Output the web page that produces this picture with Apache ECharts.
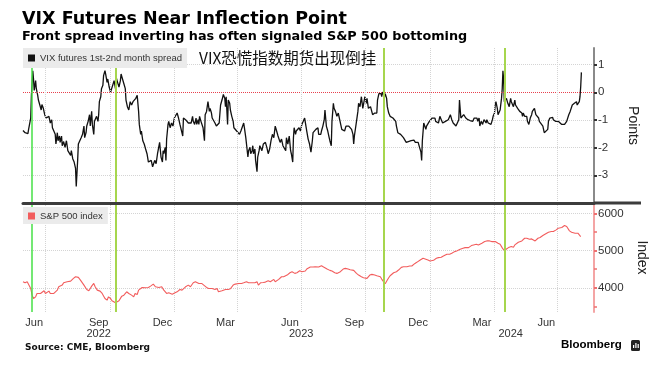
<!DOCTYPE html>
<html><head><meta charset="utf-8">
<script src="https://cdn.jsdelivr.net/npm/echarts@6/dist/echarts.min.js"></script>
<style>html,body{margin:0;padding:0;background:#fff}#c{width:668px;height:373px}</style>
</head><body><div id="c"></div>
<script>
// ---------- DATA ----------
// day offsets are counted from BASE_DATE
const BASE_DATE = '2022-06-01';
const X_MIN = '2022-05-30';
const X_MAX = '2024-08-22';

// VIX futures 1st-2nd month spread: [day offset, points]
const spreadPoints = [
[-2,-1.38],[1,-1.46],[5,-1.49],[6,-1.34],[9,-0.93],[10,-0.11],[12,0.78],[13,0.48],[14,0.07],[16,0.42],
[17,0.13],[19,-0.11],[20,-0.28],[22,-0.46],[24,-0.64],[25,-0.44],[27,-0.58],[29,-0.81],[30,-0.75],[31,-0.93],
[33,-0.99],[35,-0.87],[37,-1.11],[39,-0.99],[40,-1.28],[42,-1.22],[44,-1.52],[45,-1.87],[47,-1.46],[48,-1.75],
[50,-1.58],[51,-1.81],[53,-1.58],[54,-1.93],[56,-1.78],[58,-1.99],[60,-1.75],[62,-2.11],[64,-2.05],[66,-2.28],
[67,-2.11],[69,-2.40],[71,-2.52],[73,-2.75],[74,-3.40],[76,-2.46],[77,-1.87],[79,-1.85],[81,-1.64],[83,-1.52],
[85,-1.22],[86,-1.64],[88,-1.46],[89,-1.22],[91,-1.05],[93,-0.81],[94,-1.22],[96,-0.69],[97,-1.16],[99,-1.52],
[100,-1.05],[102,-0.99],[103,-0.87],[105,-1.05],[106,-0.81],[107,-0.34],[109,-0.16],[110,0.13],[112,0.25],[113,0.60],
[115,0.78],[116,0.66],[118,0.36],[119,0.48],[121,0.19],[123,0.01],[125,-0.05],[126,0.25],[128,0.42],[130,0.13],
[131,0.54],[133,0.36],[135,0.19],[137,0.42],[138,0.66],[140,0.48],[142,0.31],[144,0.13],[145,-0.28],[147,-0.52],
[149,-0.64],[151,-0.34],[153,-0.46],[155,-0.34],[157,-0.28],[159,-0.22],[161,-0.11],[163,-0.69],[164,-1.16],[166,-1.52],
[167,-1.40],[169,-1.75],[171,-1.87],[173,-2.05],[175,-2.22],[177,-2.52],[179,-2.58],[181,-2.46],[183,-2.69],[184,-2.64],
[186,-2.46],[188,-2.58],[190,-2.22],[192,-2.28],[193,-1.81],[195,-2.34],[197,-2.52],[198,-2.11],[199,-2.22],[201,-1.99],
[202,-2.46],[203,-1.69],[205,-1.16],[206,-1.05],[208,-1.28],[210,-1.11],[212,-1.22],[214,-0.93],[216,-0.87],[218,-0.75],
[220,-0.93],[222,-1.16],[224,-1.22],[226,-1.58],[227,-0.93],[229,-0.87],[230,-0.99],[232,-0.93],[234,-1.11],[236,-1.16],
[238,-1.11],[240,-0.87],[241,-1.05],[243,-1.16],[245,-0.93],[246,-1.16],[248,-0.99],[249,-1.16],[250,-0.87],[252,-1.05],
[253,-0.99],[255,-1.28],[257,-1.75],[258,-0.81],[260,-0.69],[262,-0.34],[264,-0.69],[265,-0.58],[267,-0.75],[268,-0.93],
[270,-0.99],[272,-1.11],[274,-1.22],[276,-1.16],[278,-1.11],[280,-0.46],[282,-0.28],[284,-0.08],[286,-0.22],[287,-0.52],
[288,-0.16],[290,-1.16],[291,-0.28],[293,-0.40],[294,-0.64],[296,-0.87],[298,-1.05],[299,-1.28],[301,-1.34],[303,-1.40],
[305,-1.46],[307,-1.52],[309,-1.40],[311,-1.46],[313,-1.11],[314,-1.28],[316,-1.64],[317,-1.87],[319,-2.34],[320,-2.11],
[322,-1.99],[323,-2.22],[325,-2.11],[326,-1.93],[327,-2.22],[329,-2.05],[330,-2.46],[332,-2.87],[333,-2.34],[335,-2.11],
[336,-1.93],[337,-1.99],[339,-2.11],[341,-1.87],[343,-1.93],[344,-1.81],[346,-1.99],[348,-2.22],[350,-2.05],[352,-1.75],
[354,-1.52],[356,-1.64],[358,-1.22],[360,-1.40],[362,-1.58],[363,-1.64],[365,-1.81],[367,-1.69],[369,-1.93],[371,-1.87],
[373,-2.11],[374,-1.64],[376,-1.87],[378,-1.58],[380,-2.11],[381,-2.22],[383,-2.52],[384,-1.64],[385,-1.28],[387,-1.52],
[388,-1.40],[390,-1.34],[392,-1.28],[394,-1.40],[396,-1.16],[398,-1.05],[400,-0.93],[402,-0.99],[403,-1.40],[405,-1.69],
[407,-1.87],[409,-2.16],[411,-1.75],[412,-1.46],[414,-1.40],[416,-1.34],[417,-1.40],[419,-1.28],[420,-1.52],[422,-1.46],
[423,-1.52],[424,-1.40],[426,-1.22],[428,-0.99],[429,-0.64],[431,-1.22],[432,-1.22],[433,-1.40],[435,-1.64],[436,-1.75],
[438,-1.93],[439,-1.05],[441,-0.40],[442,-0.58],[444,-0.69],[446,-0.87],[448,-0.75],[450,-0.99],[451,-1.05],[453,-1.34],
[455,-1.34],[457,-1.40],[459,-1.22],[461,-1.16],[463,-1.22],[465,-1.22],[467,-1.34],[469,-1.52],[470,-1.87],[471,-1.58],
[473,-1.52],[474,-1.05],[476,-0.69],[477,-0.40],[479,-0.52],[480,-0.34],[481,-0.16],[483,-0.58],[484,-0.52],[486,-0.16],
[488,-0.40],[489,-0.22],[491,-0.58],[492,-0.64],[494,-0.52],[495,-0.58],[497,-0.81],[498,-0.87],[500,-0.75],[501,-0.81],
[503,-0.75],[504,-0.28],[506,-0.05],[507,0.01],[509,-0.05],[510,-0.16],[511,0.01],[513,0.01],[514,-0.16],[515,-0.05],
[517,-0.22],[518,-0.52],[520,-0.75],[521,-0.69],[522,-0.87],[524,-0.81],[526,-0.93],[528,-0.99],[530,-1.05],[531,-1.22],
[533,-1.46],[535,-1.52],[537,-1.52],[539,-1.58],[541,-1.64],[543,-1.69],[545,-1.81],[547,-1.81],[548,-1.78],[550,-1.81],
[552,-1.75],[554,-1.78],[556,-1.73],[558,-1.81],[560,-1.87],[562,-1.81],[564,-1.99],[566,-2.16],[567,-2.46],[568,-1.75],
[570,-1.11],[571,-1.16],[573,-1.34],[574,-1.22],[576,-1.16],[578,-1.05],[580,-0.99],[582,-0.93],[584,-0.99],[586,-0.93],
[587,-1.05],[589,-0.99],[591,-1.11],[593,-0.87],[595,-0.99],[597,-1.11],[599,-1.11],[601,-1.05],[603,-1.11],[605,-0.99],
[606,-0.93],[608,-0.81],[610,-0.99],[612,-1.11],[614,-1.16],[616,-1.22],[618,-1.28],[620,-0.99],[621,-0.28],[623,-0.93],
[624,-0.99],[625,-0.87],[627,-0.81],[628,-0.81],[630,-0.93],[631,-0.99],[633,-0.99],[634,-1.02],[636,-1.02],[638,-0.99],
[640,-1.05],[642,-0.93],[643,-0.87],[644,-0.99],[646,-0.93],[647,-1.05],[649,-0.93],[650,-1.22],[652,-1.05],[653,-1.11],
[654,-1.16],[656,-0.99],[657,-1.05],[659,-1.11],[660,-0.99],[662,-1.11],[663,-1.11],[664,-1.05],[666,-1.16],[668,-0.99],
[669,-0.87],[671,-0.75],[672,-0.46],[673,-0.34],[675,-0.58],[676,-0.81],[678,-0.87],[679,-0.64],[681,-0.22],[682,0.13],
[683,0.78],[684,0.48],[685,-0.34],[687,-0.28],[688,-0.22],[690,-0.40],[691,-0.34],[692,-0.52],[694,-0.22],[695,-0.34],
[697,-0.28],[698,-0.52],[700,-0.28],[701,-0.46],[702,-0.52],[704,-0.58],[705,-0.64],[707,-0.69],[708,-0.75],[710,-0.75],
[711,-0.87],[712,-0.75],[714,-0.87],[715,-0.93],[717,-0.87],[718,-1.05],[720,-1.16],[721,-1.05],[722,-0.93],[724,-0.81],
[725,-0.69],[727,-0.64],[728,-0.58],[730,-0.81],[731,-0.75],[732,-0.87],[734,-0.93],[735,-1.05],[737,-1.11],[738,-1.11],
[740,-1.22],[741,-1.28],[742,-1.46],[744,-1.52],[745,-1.52],[747,-1.34],[748,-1.05],[750,-0.93],[751,-0.87],[752,-0.93],
[754,-0.91],[755,-0.99],[757,-0.95],[758,-1.05],[760,-1.11],[761,-1.11],[762,-1.05],[764,-1.11],[765,-1.11],[767,-1.16],
[768,-1.19],[769,-1.11],[771,-1.16],[772,-1.11],[774,-1.05],[775,-0.99],[777,-0.81],[778,-0.75],[779,-0.69],[781,-0.64],
[782,-0.46],[784,-0.52],[785,-0.40],[787,-0.46],[788,-0.34],[789,-0.46],[791,-0.40],[792,-0.34],[793,-0.16],[794,0.19],
[795,0.72]
];

// S&P 500 index: [day offset, index level]
const spxPoints = [
[-2,4163],[1,4136],[4,4163],[6,4118],[9,3983],[11,3803],[13,3713],[16,3758],[18,3848],[20,3893],
[23,3848],[25,3893],[28,3920],[30,3848],[32,3893],[35,3911],[37,3848],[39,3803],[42,3848],[44,3893],
[47,3938],[49,4028],[51,4010],[54,4073],[56,4136],[58,4118],[61,4163],[63,4163],[66,4181],[68,4208],
[70,4253],[73,4298],[75,4316],[77,4280],[80,4208],[82,4163],[85,4073],[87,4028],[89,3956],[92,3920],
[94,3983],[96,4046],[99,4118],[101,4028],[104,3938],[106,3893],[108,3911],[111,3848],[113,3803],[115,3713],
[118,3668],[120,3758],[123,3713],[125,3650],[127,3668],[130,3596],[132,3623],[135,3650],[137,3668],[139,3776],
[142,3803],[144,3848],[146,3893],[149,3848],[151,3893],[153,3803],[156,3758],[158,3848],[161,3821],[163,3938],
[165,3983],[168,4010],[170,3983],[173,4001],[175,4028],[177,4010],[180,4046],[182,4073],[184,4100],[187,4028],
[189,3983],[192,4010],[194,3983],[196,4028],[199,3938],[201,3893],[203,3848],[206,3866],[208,3848],[211,3830],
[213,3848],[215,3866],[218,3893],[220,3938],[222,3956],[225,3938],[227,3983],[230,4028],[232,4010],[234,4073],
[237,4028],[239,4073],[241,4136],[244,4163],[246,4136],[249,4118],[251,4136],[253,4118],[256,4073],[258,4028],
[260,4010],[263,3983],[265,4010],[268,3983],[270,3938],[272,3956],[275,3983],[277,3893],[279,3866],[282,3920],
[284,3938],[287,3956],[289,3920],[291,3956],[294,3974],[296,4010],[298,4073],[301,4100],[303,4118],[306,4118],
[308,4136],[310,4118],[313,4136],[315,4145],[317,4163],[320,4136],[322,4163],[325,4136],[327,4100],[329,4136],
[332,4163],[334,4073],[337,4136],[339,4118],[341,4145],[344,4154],[346,4163],[348,4190],[351,4163],[353,4208],
[356,4226],[358,4163],[360,4208],[363,4226],[365,4253],[367,4298],[370,4298],[372,4316],[375,4343],[377,4370],
[379,4406],[382,4433],[384,4406],[386,4388],[389,4406],[391,4433],[393,4460],[396,4433],[398,4415],[401,4451],
[403,4505],[405,4523],[408,4559],[410,4568],[412,4559],[415,4568],[417,4586],[420,4559],[422,4568],[424,4595],
[427,4559],[429,4523],[432,4505],[434,4505],[436,4469],[439,4451],[441,4433],[443,4406],[446,4388],[448,4406],
[451,4433],[453,4478],[455,4505],[458,4523],[460,4478],[462,4505],[465,4487],[467,4478],[470,4469],[472,4433],
[474,4388],[477,4343],[479,4325],[481,4298],[484,4271],[486,4298],[489,4253],[491,4298],[493,4343],[496,4361],
[498,4388],[500,4343],[503,4325],[505,4370],[508,4298],[510,4235],[512,4181],[515,4109],[516,4145],[518,4208],
[520,4271],[522,4325],[524,4361],[527,4406],[529,4370],[531,4433],[534,4478],[536,4523],[538,4550],[541,4568],
[543,4577],[546,4568],[548,4577],[550,4586],[553,4586],[555,4595],[557,4649],[560,4685],[562,4703],[565,4748],
[567,4775],[569,4793],[572,4775],[574,4793],[576,4748],[579,4721],[581,4703],[584,4739],[586,4775],[588,4793],
[591,4811],[593,4793],[595,4820],[598,4856],[600,4883],[603,4901],[605,4865],[607,4901],[610,4928],[612,4955],
[614,4973],[617,4991],[619,5018],[622,5036],[624,5045],[626,5063],[629,5081],[631,5108],[634,5081],[636,5108],
[638,5135],[641,5153],[643,5135],[645,5171],[648,5153],[650,5180],[653,5198],[655,5216],[657,5243],[660,5261],
[662,5270],[664,5261],[667,5243],[669,5225],[672,5243],[674,5225],[676,5198],[679,5171],[681,5108],[683,5045],
[686,4991],[688,5045],[691,5081],[693,5063],[695,5108],[698,5090],[700,5153],[702,5198],[705,5225],[707,5243],
[710,5261],[712,5288],[714,5333],[717,5333],[719,5333],[721,5306],[724,5315],[726,5279],[729,5261],[731,5288],
[733,5333],[736,5351],[738,5378],[740,5405],[743,5441],[745,5468],[748,5495],[750,5495],[752,5513],[755,5513],
[757,5531],[759,5558],[762,5603],[764,5585],[767,5621],[769,5648],[771,5675],[774,5648],[776,5603],[778,5531],
[781,5495],[783,5513],[786,5468],[788,5441],[790,5468],[792,5513],[794,5378]
];

// Dates where the front spread inverted (vertical signal lines)
const signalDates = ['2022-06-12', '2022-10-10', '2023-10-27', '2024-04-16'];

// Axis ticks and labels
const quarterStarts = ['2022-07-01','2022-10-01','2023-01-01','2023-04-01','2023-07-01','2023-10-01','2024-01-01','2024-04-01','2024-07-01'];
const monthTicks = ['2022-06-15','2022-09-15','2022-12-15','2023-03-15','2023-06-15','2023-09-15','2023-12-15','2024-03-15','2024-06-15'];
const monthNames = ['Jan','Feb','Mar','Apr','May','Jun','Jul','Aug','Sep','Oct','Nov','Dec'];
const yearTicks = ['2022-09-15','2023-07-01','2024-04-25'];
const spreadTicks = [-3, -2, -1, 0, 1];
const spxTicks = [4000, 5000, 6000];
const spxMinorTicks = [3500, 4500, 5500];

// ---------- CHART ----------
const DAY = 86400000;
const ts = s => { const p = s.split('-').map(Number); return Date.UTC(p[0], p[1] - 1, p[2]); };
const base = ts(BASE_DATE);
const toT = d => base + d * DAY;

const signalColors = ['#46e046', '#a6d64e', '#a6d64e', '#a6d64e'];
const signalWidths = [1.5, 2, 2, 2];
const signalLines = signalDates.map((s, i) => ({
  xAxis: ts(s), lineStyle: { color: signalColors[i], width: signalWidths[i], type: 'solid' }
}));

const FONT = 'Liberation Sans';
const dotted = { type: 'dotted', color: '#d4d4d4', width: 1 };
const xMin = ts(X_MIN), xMax = ts(X_MAX);
const plain = v => String(v);
const SQUARE = 'path://M0,0L10,0L10,10L0,10Z';

const chart = echarts.init(document.getElementById('c'), null, { renderer: 'canvas' });
chart.setOption({
  animation: false,
  backgroundColor: '#ffffff',
  title: [
    { text: 'VIX Futures Near Inflection Point', left: 22, top: 10, padding: 0,
      textStyle: { fontFamily: 'DejaVu Sans', fontWeight: 'bold', fontSize: 17.5, color: '#000' } },
    { text: 'Front spread inverting has often signaled S&P 500 bottoming', left: 22, top: 30, padding: 0,
      textStyle: { fontFamily: 'DejaVu Sans', fontWeight: 'bold', fontSize: 12.8, color: '#000' } },
    { text: 'VIX恐慌指数期货出现倒挂', left: 199, top: 50, padding: 0,
      textStyle: { fontFamily: 'Noto Sans CJK SC', fontWeight: 'normal', fontSize: 15.5, color: '#111' } },
    { text: 'Source: CME, Bloomberg', left: 25, top: 343, padding: 0,
      textStyle: { fontFamily: 'DejaVu Sans', fontWeight: 'bold', fontSize: 9, color: '#111' } },
    { text: 'Bloomberg', left: 561, top: 339, padding: 0,
      textStyle: { fontFamily: FONT, fontWeight: 'bold', fontSize: 11.5, color: '#000' } }
  ],
  legend: [
    { z: 20, data: [{ name: 'VIX futures 1st-2nd month spread', icon: SQUARE,
        itemStyle: { color: '#111', borderWidth: 0, borderColor: 'transparent', decal: 'none' } }],
      left: 23, top: 48, padding: [5, 5, 5, 5],
      backgroundColor: '#ebebeb', itemWidth: 7, itemHeight: 7, selectedMode: false,
      itemStyle: { borderWidth: 0 }, lineStyle: { width: 0 },
      textStyle: { fontFamily: FONT, fontSize: 9.5, color: '#333' } },
    { z: 20, data: [{ name: 'S&P 500 index', icon: SQUARE,
        itemStyle: { color: '#f25d5d', borderWidth: 0, borderColor: 'transparent', decal: 'none' } }],
      left: 23, top: 207, padding: [4, 5, 3, 5],
      backgroundColor: '#ebebeb', itemWidth: 7, itemHeight: 7, selectedMode: false,
      itemStyle: { borderWidth: 0 }, lineStyle: { width: 0 },
      textStyle: { fontFamily: FONT, fontSize: 9.5, color: '#333' } }
  ],
  grid: [
    { left: 23, right: 74, top: 48, height: 155 },
    { left: 23, right: 74, top: 203, height: 109 }
  ],
  xAxis: [
    { type: 'value', gridIndex: 0, position: 'bottom', min: xMin, max: xMax, z: 6,
      axisLine: { show: true, onZero: false, lineStyle: { color: '#3c3c3c', width: 3 } },
      axisTick: { show: false, customValues: quarterStarts.map(ts) },
      axisLabel: { show: false, customValues: quarterStarts.map(ts) },
      splitLine: { show: true, lineStyle: dotted } },
    { type: 'value', gridIndex: 1, position: 'bottom', min: xMin, max: xMax,
      axisLine: { show: false, onZero: false },
      axisTick: { show: false, customValues: quarterStarts.map(ts) },
      axisLabel: { customValues: monthTicks.map(ts), margin: 5, fontFamily: FONT, fontSize: 11, color: '#333',
        formatter: v => monthNames[new Date(v).getUTCMonth()] },
      splitLine: { show: true, lineStyle: dotted } },
    { type: 'value', gridIndex: 1, position: 'bottom', offset: 0, min: xMin, max: xMax,
      axisLine: { show: false, onZero: false },
      axisTick: { show: false, customValues: yearTicks.map(ts) },
      axisLabel: { customValues: yearTicks.map(ts), margin: 16, fontFamily: FONT, fontSize: 11, color: '#333',
        formatter: v => String(new Date(v).getUTCFullYear()) },
      splitLine: { show: false } }
  ],
  yAxis: [
    { type: 'value', gridIndex: 0, position: 'right', min: -4, max: 1.6,
      name: 'Points', nameLocation: 'middle', nameRotate: -90, nameGap: 32,
      nameTextStyle: { fontFamily: FONT, fontSize: 14, color: '#222' },
      axisLine: { show: true, onZero: false, lineStyle: { color: '#8a8a8a', width: 2 } },
      axisTick: { show: true, customValues: spreadTicks, length: 3, lineStyle: { color: '#333', width: 2 } },
      axisLabel: { customValues: spreadTicks, margin: 4, fontFamily: FONT, fontSize: 11.5, color: '#333', formatter: plain },
      splitLine: { show: true, lineStyle: dotted } },
    { type: 'value', gridIndex: 1, position: 'right', min: 3350, max: 6280,
      name: 'Index', nameLocation: 'middle', nameRotate: -90, nameGap: 32,
      nameTextStyle: { fontFamily: FONT, fontSize: 14, color: '#222' },
      axisLine: { show: true, onZero: false, lineStyle: { color: '#f4a5a5', width: 2 } },
      axisTick: { show: true, customValues: spxTicks, length: 3, lineStyle: { color: '#ee7070', width: 2 } },
      axisLabel: { customValues: spxTicks, margin: 4, fontFamily: FONT, fontSize: 11.5, color: '#333', formatter: plain },
      splitLine: { show: true, lineStyle: dotted } },
    { type: 'value', gridIndex: 1, position: 'right', offset: 0, min: 3350, max: 6280,
      axisLine: { show: false, onZero: false },
      axisTick: { show: true, customValues: spxMinorTicks, length: 3, lineStyle: { color: '#ee7070', width: 1.5 } },
      axisLabel: { show: false, customValues: spxMinorTicks },
      splitLine: { show: false } }
  ],
  series: [
    { name: 'VIX futures 1st-2nd month spread', type: 'line', xAxisIndex: 0, yAxisIndex: 0,
      data: spreadPoints.map(p => [toT(p[0]), p[1]]),
      showSymbol: false, color: '#111', itemStyle: { color: '#111' },
      lineStyle: { color: '#111', width: 1.3 },
      markLine: { silent: true, symbol: 'none', label: { show: false },
        data: [{ yAxis: 0, lineStyle: { color: '#e8414e', type: 'dotted', width: 1 } }].concat(signalLines) } },
    { name: 'S&P 500 index', type: 'line', xAxisIndex: 1, yAxisIndex: 1,
      data: spxPoints.map(p => [toT(p[0]), p[1]]),
      showSymbol: false, color: '#f25d5d', itemStyle: { color: '#f25d5d' },
      lineStyle: { color: '#f25d5d', width: 1.1 },
      markLine: { silent: true, symbol: 'none', label: { show: false }, data: signalLines } }
  ],
  graphic: [
    { type: 'line', z: 6, shape: { x1: 594, y1: 203, x2: 641, y2: 203 }, style: { stroke: '#3c3c3c', lineWidth: 3 }, silent: true },
    { type: 'rect', shape: { x: 631, y: 340, width: 9, height: 11, r: 1.5 }, style: { fill: '#222' }, silent: true },
    { type: 'rect', shape: { x: 633, y: 345, width: 1.2, height: 3 }, style: { fill: '#fff' }, silent: true },
    { type: 'rect', shape: { x: 635.3, y: 343, width: 1.2, height: 5 }, style: { fill: '#fff' }, silent: true },
    { type: 'rect', shape: { x: 637.6, y: 344, width: 1.2, height: 4 }, style: { fill: '#fff' }, silent: true }
  ]
});
</script>
</body></html>
